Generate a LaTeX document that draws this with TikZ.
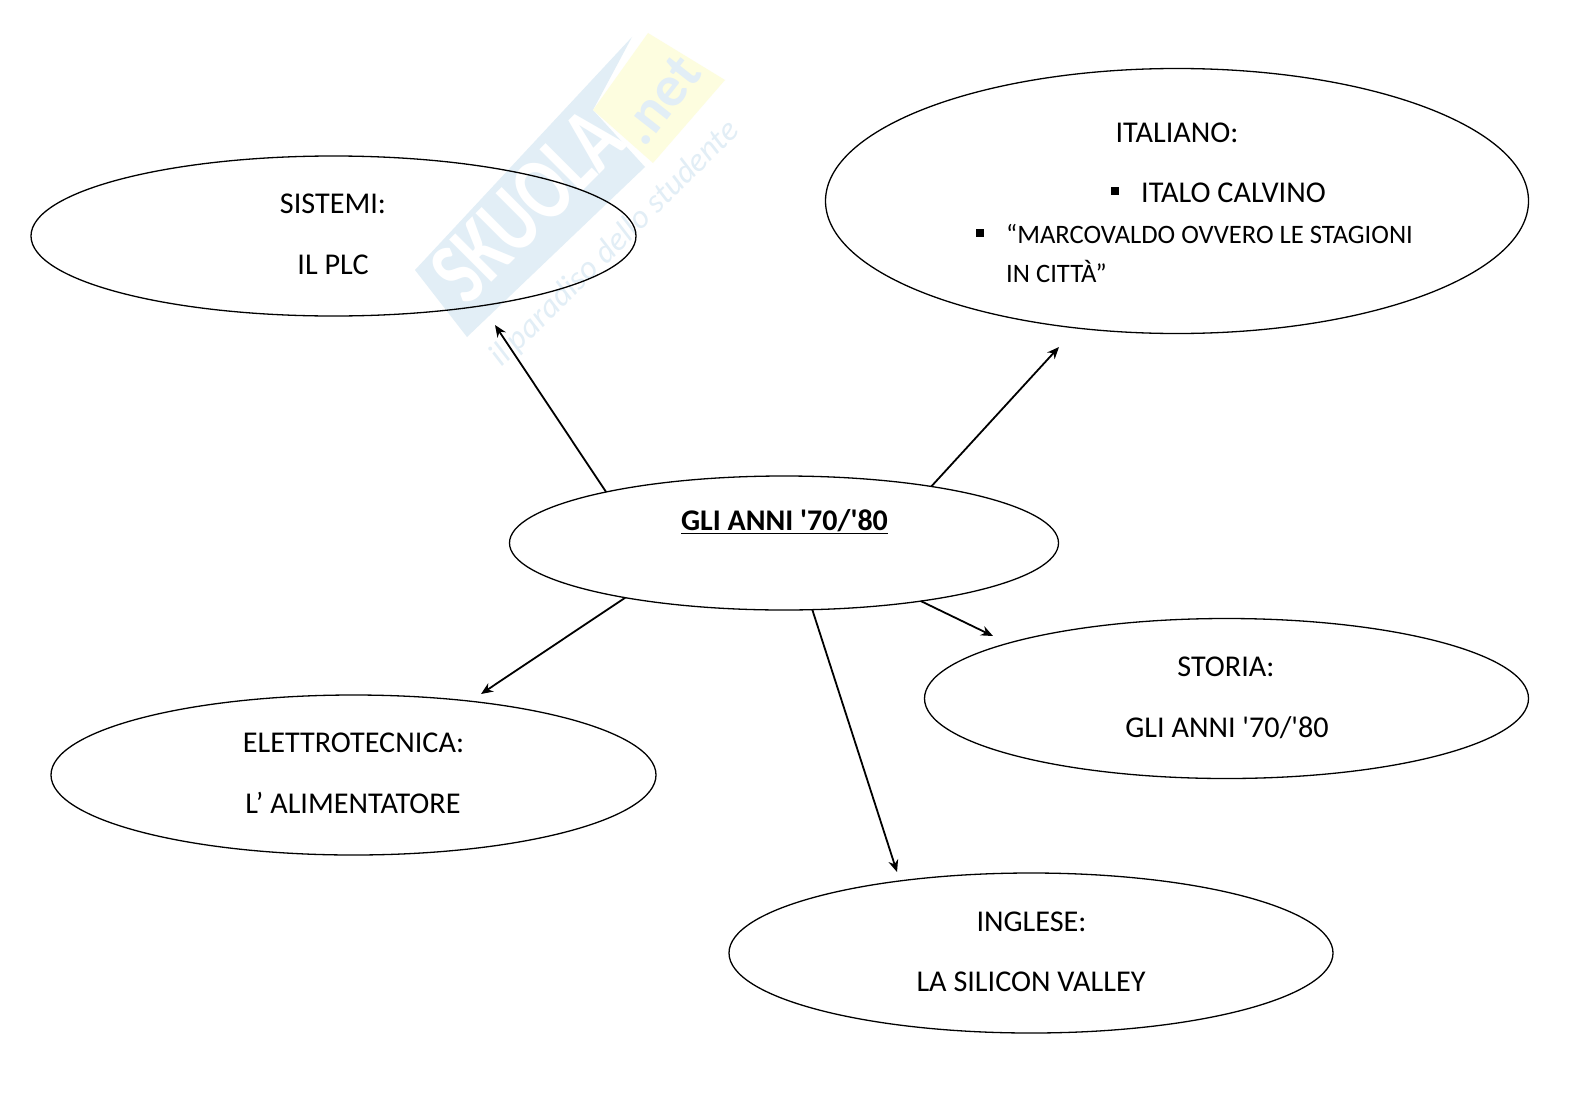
\documentclass[tikz,border=0pt]{standalone}
\usepackage{fontspec}
\setmainfont{Carlito}
\usetikzlibrary{arrows.meta,shapes.geometric}
\definecolor{wmblue}{HTML}{E2EEF6}
\definecolor{wmyellow}{HTML}{FDFDDF}
\tikzset{
  oval/.style={draw=black,line width=1.3pt,ellipse,inner sep=0pt,outer sep=0pt},
  link/.style={draw=black,line width=1.8pt,-{Stealth[length=12pt,width=10pt]}},
  lab/.style={anchor=base,inner sep=0pt,font=\fontsize{30.2}{34}\selectfont},
  lableft/.style={lab,anchor=base west},
  smalllab/.style={lableft,font=\fontsize{26.6}{30}\selectfont},
  bullet/.style={fill=black,draw=none,minimum size=8.5pt,inner sep=0pt,rectangle},
}
\newcommand{\sq}{\textquotesingle}
\begin{document}
\begin{tikzpicture}[x=1pt,y=-1pt]
\useasboundingbox (0,0) rectangle (1578,1116);
\fill[white] (0,0) rectangle (1578,1116);
% watermark
\fill[wmblue] (415,270) -- (632,37) -- (593,110) -- (645,167) -- (467,337) -- cycle;
\fill[wmyellow] (648,33) -- (725,80) -- (653,163) -- (593,110) -- cycle;
\node[rotate=45,inner sep=0pt,text=white,font=\fontsize{92}{92}\selectfont\bfseries] (wm1) at (527,205) {\scalebox{0.74}[1]{SKUOLA}};
\node[rotate=52,inner sep=0pt,text=wmblue,font=\fontsize{58}{58}\selectfont\bfseries] (wm2) at (660,100) {.net};
\node[rotate=44.6,inner sep=0pt,text=wmblue,font=\fontsize{33}{33}\selectfont\itshape] (wm3) at (615,244) {il paradiso dello studente};
% ovals
\node[oval,minimum width=605pt,minimum height=160pt] (sis) at (333.5,236) {};
\node[oval,minimum width=703pt,minimum height=265pt] (ita) at (1177,201) {};
\node[oval,minimum width=549pt,minimum height=134pt] (cen) at (784,543) {};
\node[oval,minimum width=604pt,minimum height=160pt] (sto) at (1226.5,698.5) {};
\node[oval,minimum width=605pt,minimum height=160pt] (ele) at (353.5,775) {};
\node[oval,minimum width=604pt,minimum height=160pt] (ing) at (1031,953) {};
% arrow ends
\coordinate (tsis) at (495,325);
\coordinate (tita) at (1059,347);
\coordinate (tsto) at (993,636);
\coordinate (ting) at (897,872);
\coordinate (tele) at (481,694);
\draw[link] (cen.164.2) -- (tsis);
\draw[link] (cen.21.1) -- (tita);
\draw[link] (cen.-23.1) -- (tsto);
\draw[link] (cen.-67.3) -- (ting);
\draw[link] (cen.-161.6) -- (tele);
% labels
\node[lab] (l1) at (333,213) {SISTEMI:};
\node[lab] (l2) at (333,274) {IL PLC};
\node[lab] (l3) at (1177,142) {ITALIANO:};
\node[lableft] (l4) at (1141,202) {ITALO CALVINO};
\node[bullet] (b1) at (1115,191) {};
\node[smalllab] (l5) at (1006,243.5) {“MARCOVALDO OVVERO LE STAGIONI};
\node[bullet] (b2) at (980,233) {};
\node[smalllab] (l6) at (1006,282.5) {IN CITTÀ”};
\node[lab,font=\fontsize{30}{34}\selectfont\bfseries] (l7) at (784.5,530) {\underline{GLI ANNI \sq70/\sq80}};
\node[lab] (l8) at (1226,676) {STORIA:};
\node[lab] (l9) at (1227,737) {GLI ANNI \sq70/\sq80};
\node[lab] (l10) at (353.5,752) {ELETTROTECNICA:};
\node[lab] (l11) at (353,813) {L’ ALIMENTATORE};
\node[lab] (l12) at (1031.5,931) {INGLESE:};
\node[lab] (l13) at (1031,991) {LA SILICON VALLEY};
\end{tikzpicture}
\end{document}
